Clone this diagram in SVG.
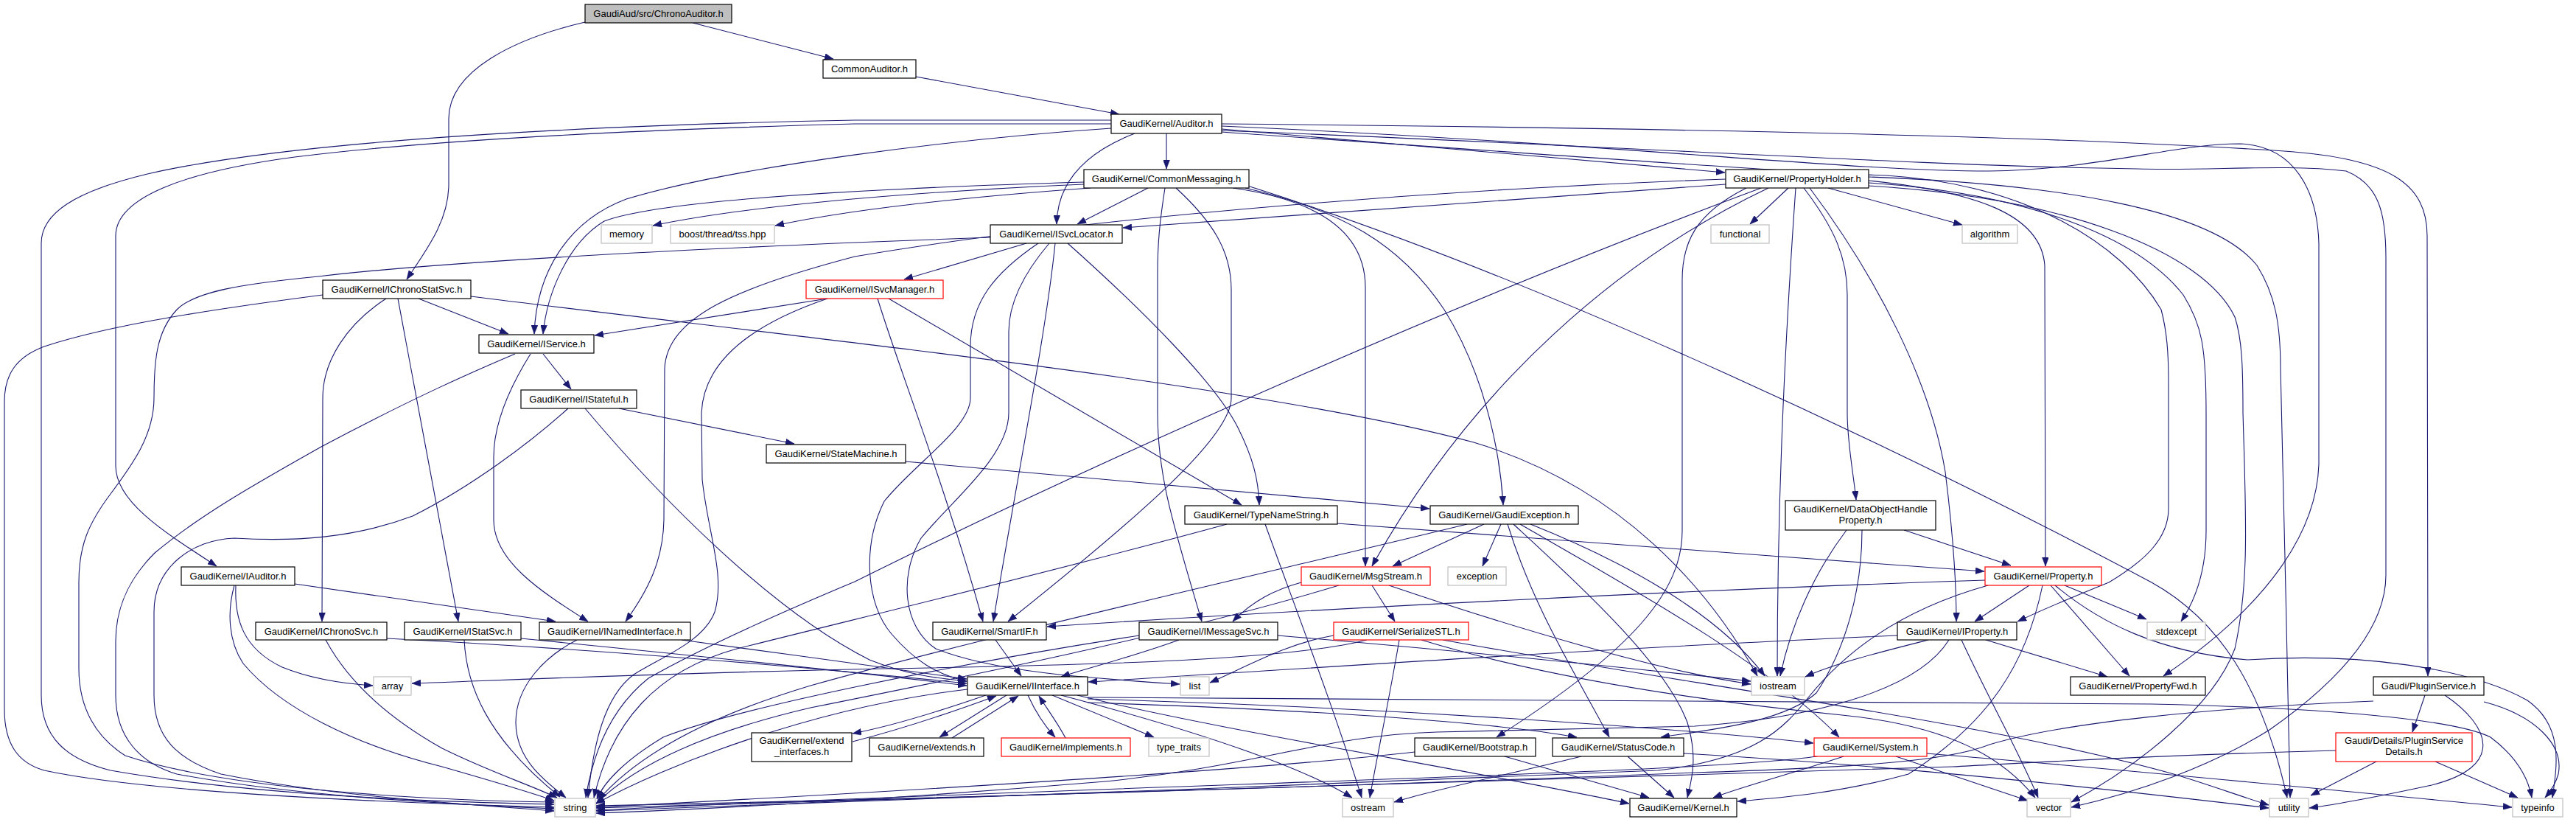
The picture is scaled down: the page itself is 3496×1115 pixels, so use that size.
<svg xmlns="http://www.w3.org/2000/svg" width="3496" height="1115" viewBox="0 0 3496 1115">
<defs>
<marker id="a" viewBox="0 0 12 9" refX="12" refY="4.5" markerWidth="12" markerHeight="9" markerUnits="userSpaceOnUse" orient="auto"><path d="M0,0 L12,4.5 L0,9 z" fill="#191970" stroke="#191970" stroke-width="0.5"/></marker>
<style>
.node rect{fill:#fff;stroke:#000;stroke-width:1.2}
.node.g rect{stroke:#bfbfbf}
.node.r rect{stroke:#ff0000}
.node.root rect{fill:#bfbfbf}
.node text{font-family:"Liberation Sans",Arial,Helvetica,sans-serif;font-size:13px;text-anchor:middle;fill:#000}
#edges path{fill:none;stroke:#191970;stroke-width:1.1;marker-end:url(#a)}
</style>
</defs>
<rect width="3496" height="1115" fill="#fff"/>
<g id="edges">
<path d="M 940 31 L 1131 80"/>
<path d="M 794 30 C 700 52, 609 95, 609 161 L 609 250 C 609 300, 578 340, 552 379"/>
<path d="M 1243 104 L 1519 155"/>
<path d="M 1583 181 L 1583 229"/>
<path d="M 1540 181 C 1470 208, 1435 250, 1434 304"/>
<path d="M 1508 174 C 1300 188, 1000 225, 850 270 C 770 300, 728 370, 725 453"/>
<path d="M 1508 168 L 1160 168 C 900 175, 600 188, 400 213 C 250 233, 157 268, 157 320 L 157 632 C 157 680, 220 720, 294 768"/>
<path d="M 1508 163 L 1160 163 C 800 170, 400 190, 200 236 C 100 260, 56 290, 56 330 L 56 943 C 56 1000, 90 1030, 150 1045 C 350 1080, 600 1088, 752 1091"/>
<path d="M 1658 175 L 2341 234"/>
<path d="M 1658 168 C 2300 174, 2800 185, 3100 205 C 3245 215, 3294 250, 3294 320 L 3295 917"/>
<path d="M 1658 171 C 2200 195, 2500 232, 2700 232 C 2850 230, 2950 195, 3040 195 C 3115 198, 3145 260, 3147 330 L 3147 630 C 3144 720, 3080 820, 2936 917"/>
<path d="M 1658 177 C 2200 198, 2600 225, 2900 229 C 3000 232, 3100 222, 3184 232 C 3229 250, 3238 290, 3238 350 L 3238 780 C 3238 850, 3180 920, 3080 990 C 3000 1040, 2900 1075, 2811 1095"/>
<path d="M 1658 179 C 2100 210, 2450 235, 2560 238 C 2750 250, 2880 330, 2933 420 C 2941 450, 2943 480, 2943 520 L 2943 690 C 2943 730, 2912 760, 2862 790 C 2800 815, 2770 828, 2738 843"/>
<path d="M 1471 247 C 1200 255, 900 270, 820 300 C 770 330, 742 400, 737 453"/>
<path d="M 1471 250 C 1200 262, 1000 282, 886 306"/>
<path d="M 1480 255 C 1300 268, 1150 285, 1052 306"/>
<path d="M 1558 255 L 1462 304"/>
<path d="M 1581 255 C 1574 300, 1571 330, 1571 370 L 1571 560 C 1571 650, 1595 720, 1631 843"/>
<path d="M 1596 255 C 1645 300, 1671 340, 1671 393 L 1671 540 C 1671 590, 1560 690, 1368 843"/>
<path d="M 1673 255 C 1780 270, 1853 310, 1853 390 L 1853 768"/>
<path d="M 1690 255 C 1820 285, 1900 330, 1960 420 C 2010 500, 2035 600, 2040 685"/>
<path d="M 1693 252 C 2100 380, 2600 620, 2920 790 C 3010 840, 3070 930, 3104 1082"/>
<path d="M 438 400 C 300 418, 150 440, 60 470 C 20 485, 6 510, 6 545 L 6 962 C 6 1010, 25 1035, 60 1045 C 200 1075, 500 1088, 752 1095"/>
<path d="M 568 405 L 690 453"/>
<path d="M 524 405 C 470 440, 438 490, 438 540 L 437 843"/>
<path d="M 540 405 L 622 843"/>
<path d="M 639 402 C 1100 460, 1700 520, 2000 600 C 2200 660, 2320 800, 2385 917"/>
<path d="M 1393 330 L 1227 379"/>
<path d="M 1409 330 C 1350 370, 1317 410, 1317 470 L 1317 540 C 1317 580, 1240 630, 1200 680 C 1170 740, 1175 820, 1210 860 C 1240 895, 1270 915, 1312 924"/>
<path d="M 1424 330 C 1390 370, 1369 410, 1369 450 L 1369 560 C 1369 620, 1290 680, 1250 730 C 1220 780, 1225 850, 1270 880 C 1350 912, 1480 920, 1601 928"/>
<path d="M 1432 330 C 1420 450, 1380 650, 1348 843"/>
<path d="M 1449 330 C 1550 420, 1650 520, 1680 580 C 1700 620, 1708 650, 1709 685"/>
<path d="M 1344 322 L 1160 329 C 900 340, 600 355, 432 375 C 330 385, 265 395, 240 420 C 212 450, 209 490, 209 540 C 209 590, 180 630, 150 670 C 120 710, 107 740, 107 790 L 107 907 C 107 960, 130 1000, 170 1025 C 300 1068, 550 1085, 752 1088"/>
<path d="M 1123 405 L 807 455"/>
<path d="M 1191 405 C 1220 500, 1280 650, 1334 843"/>
<path d="M 1206 405 L 1685 685"/>
<path d="M 1123 405 C 1020 440, 955 490, 952 560 L 953 650 C 960 720, 985 780, 970 830 C 955 870, 900 890, 860 915 C 820 945, 805 1010, 798 1082"/>
<path d="M 737 480 L 775 528"/>
<path d="M 720 480 C 695 520, 670 570, 670 620 L 670 705 C 670 760, 730 800, 798 843"/>
<path d="M 699 480 C 640 505, 560 540, 436 606 C 340 660, 270 700, 210 750 C 170 790, 157 830, 157 870 L 157 943 C 157 1000, 190 1035, 240 1050 C 400 1080, 600 1090, 752 1097"/>
<path d="M 840 554 L 1078 602"/>
<path d="M 794 554 C 900 680, 1050 830, 1180 895 C 1230 915, 1270 920, 1312 924"/>
<path d="M 771 554 C 720 600, 640 660, 560 700 C 480 730, 400 735, 318 730 C 260 732, 209 770, 209 830 L 209 943 C 209 1000, 240 1030, 300 1050 C 450 1080, 620 1090, 752 1100"/>
<path d="M 1229 626 C 1500 650, 1750 672, 1940 690"/>
<path d="M 1665 711 C 1450 770, 1200 830, 1000 880 C 890 910, 830 980, 806 1082"/>
<path d="M 1717 711 C 1760 830, 1810 960, 1848 1082"/>
<path d="M 1815 710 C 2100 730, 2400 755, 2693 775"/>
<path d="M 2014 711 L 1890 768"/>
<path d="M 2037 711 L 2012 768"/>
<path d="M 2046 711 C 2080 820, 2130 900, 2184 1000"/>
<path d="M 2054 711 C 2150 800, 2260 900, 2290 980 C 2305 1030, 2295 1060, 2290 1082"/>
<path d="M 2063 711 C 2200 790, 2400 900, 2496 1000"/>
<path d="M 2077 711 C 2200 760, 2330 830, 2395 917"/>
<path d="M 1991 711 C 1750 770, 1350 860, 1100 930 C 950 975, 860 1030, 812 1085"/>
<path d="M 1862 794 L 1893 843"/>
<path d="M 1766 790 C 1730 800, 1700 815, 1673 843"/>
<path d="M 1817 794 C 1600 860, 1300 920, 1100 960 C 950 995, 860 1040, 809 1090"/>
<path d="M 1885 794 C 2050 850, 2250 910, 2376 928"/>
<path d="M 1810 862 C 1750 872, 1700 900, 1642 926"/>
<path d="M 1855 868 C 1750 895, 1500 902, 1200 907 C 900 913, 700 922, 559 927"/>
<path d="M 1899 868 C 1885 950, 1870 1020, 1859 1082"/>
<path d="M 1929 868 C 2100 920, 2300 950, 2500 970 C 2650 985, 2720 1030, 2762 1082"/>
<path d="M 1958 868 C 2300 930, 2700 980, 2950 1050 C 3000 1065, 3040 1080, 3079 1092"/>
<path d="M 1600 868 C 1540 890, 1480 905, 1440 918"/>
<path d="M 1546 862 C 1300 900, 1000 960, 900 1000 C 850 1030, 820 1060, 810 1084"/>
<path d="M 1734 862 C 1950 880, 2200 905, 2376 924"/>
<path d="M 1351 868 L 1386 917"/>
<path d="M 1338 943 C 1280 963, 1210 985, 1157 995"/>
<path d="M 1157 1006 C 1220 990, 1295 965, 1352 944"/>
<path d="M 1366 943 L 1275 1000"/>
<path d="M 1292 1001 L 1382 944"/>
<path d="M 1395 943 C 1405 965, 1418 985, 1432 1000"/>
<path d="M 1446 1001 C 1435 980, 1420 960, 1410 944"/>
<path d="M 1428 943 L 1566 1000"/>
<path d="M 1476 953 C 1700 960, 2000 975, 2140 1000"/>
<path d="M 1462 943 C 1650 990, 2000 1045, 2211 1090"/>
<path d="M 1440 943 C 1580 980, 1750 1030, 1835 1082"/>
<path d="M 1476 948 C 1900 960, 2300 990, 2461 1008"/>
<path d="M 1476 946 C 2000 950, 2600 950, 2920 955 C 3150 960, 3330 975, 3380 1000 C 3420 1030, 3432 1060, 3436 1082"/>
<path d="M 1313 935 C 1100 960, 900 1040, 809 1090"/>
<path d="M 1920 1020 C 1700 1045, 1200 1075, 809 1095"/>
<path d="M 2042 1026 L 2238 1082"/>
<path d="M 2146 1026 C 2050 1050, 1950 1070, 1892 1088"/>
<path d="M 2209 1026 L 2272 1082"/>
<path d="M 2285 1022 C 2600 1040, 2900 1075, 3079 1096"/>
<path d="M 2466 1026 C 2300 1050, 1500 1065, 809 1099"/>
<path d="M 2502 1026 C 2430 1050, 2370 1065, 2325 1082"/>
<path d="M 2573 1026 L 2752 1086"/>
<path d="M 2615 1022 C 2900 1045, 3200 1075, 3409 1095"/>
<path d="M 2754 794 L 2680 843"/>
<path d="M 2783 794 L 2890 917"/>
<path d="M 2802 794 L 2913 840"/>
<path d="M 2789 794 C 2850 845, 2930 885, 3050 895 C 3200 885, 3350 905, 3430 950 C 3480 985, 3470 1040, 3464 1082"/>
<path d="M 2772 794 C 2750 900, 2700 980, 2590 1050 C 2500 1075, 2420 1082, 2358 1087"/>
<path d="M 2698 794 C 2570 830, 2500 890, 2455 945 C 2420 990, 2380 1030, 2250 1045 C 1800 1065, 1200 1085, 809 1100"/>
<path d="M 2694 787 C 2300 800, 1800 825, 1421 850"/>
<path d="M 2575 862 C 2200 878, 1800 905, 1477 925"/>
<path d="M 2617 868 C 2550 885, 2490 900, 2450 918"/>
<path d="M 2662 868 C 2700 950, 2740 1020, 2766 1082"/>
<path d="M 2695 868 L 2860 918"/>
<path d="M 2645 868 C 2600 940, 2450 975, 2300 985 L 1950 993 C 1800 997, 1700 1040, 1500 1060 C 1200 1085, 950 1098, 809 1103"/>
<path d="M 2584 719 L 2729 767"/>
<path d="M 2506 719 C 2460 780, 2430 850, 2416 917"/>
<path d="M 2527 719 C 2527 800, 2505 880, 2465 940 C 2420 980, 2320 990, 2254 1000"/>
<path d="M 2427 255 L 2375 304"/>
<path d="M 2481 255 L 2663 305"/>
<path d="M 2342 250 C 2100 265, 1800 290, 1524 309"/>
<path d="M 2342 243 C 2000 255, 1500 290, 1160 348 C 1000 390, 905 430, 902 500 L 901 705 C 900 760, 880 800, 849 843"/>
<path d="M 2390 255 C 2000 400, 1500 620, 1160 789 C 1050 835, 950 880, 880 920 C 830 960, 805 1020, 795 1082"/>
<path d="M 2400 255 C 2200 350, 2000 520, 1862 768"/>
<path d="M 2370 255 C 2300 290, 2283 330, 2283 380 L 2283 720 C 2283 800, 2220 880, 2031 1000"/>
<path d="M 2437 255 C 2420 500, 2412 700, 2412 917"/>
<path d="M 2448 255 C 2490 310, 2507 350, 2507 400 L 2507 560 C 2507 600, 2515 640, 2519 678"/>
<path d="M 2456 255 C 2550 380, 2620 520, 2640 640 C 2650 720, 2655 780, 2655 843"/>
<path d="M 2536 245 C 2680 260, 2770 290, 2775 360 L 2776 768"/>
<path d="M 2536 248 C 2750 262, 2900 320, 2963 400 C 2988 440, 2994 470, 2994 560 L 2994 720 C 2994 770, 2982 810, 2960 843"/>
<path d="M 2536 252 C 2800 268, 2990 340, 3033 430 C 3043 460, 3044 500, 3044 560 C 3048 700, 3053 790, 3033 880 C 3003 960, 2900 1040, 2811 1088"/>
<path d="M 2536 240 C 2800 250, 3003 285, 3063 360 C 3088 400, 3095 440, 3095 500 L 3102 800 C 3105 950, 3107 1020, 3108 1082"/>
<path d="M 3291 943 L 3274 993"/>
<path d="M 3318 943 C 3380 985, 3400 1040, 3300 1065 C 3230 1080, 3180 1090, 3134 1096"/>
<path d="M 3371 952 C 3440 970, 3480 1010, 3472 1050 C 3468 1065, 3460 1075, 3454 1082"/>
<path d="M 3221 951 C 3000 960, 2800 980, 2700 1010 C 2650 1030, 2550 1040, 2300 1048 C 1800 1068, 1200 1085, 809 1093"/>
<path d="M 3170 1018 C 2900 1025, 2750 1035, 2650 1040 C 2300 1055, 1500 1075, 809 1096"/>
<path d="M 3225 1033 L 3136 1079"/>
<path d="M 3305 1033 L 3417 1082"/>
<path d="M 400 792 L 754 843"/>
<path d="M 318 794 C 308 830, 310 870, 330 900 C 380 960, 480 1010, 600 1040 C 670 1060, 720 1075, 752 1086"/>
<path d="M 320 794 C 318 840, 330 880, 383 905 C 420 920, 460 927, 506 930"/>
<path d="M 442 868 C 470 920, 520 970, 600 1015 C 660 1045, 720 1065, 756 1082"/>
<path d="M 525 866 C 800 880, 1100 905, 1312 927"/>
<path d="M 630 868 C 633 930, 660 1000, 760 1081"/>
<path d="M 707 866 C 900 885, 1150 910, 1312 930"/>
<path d="M 925 868 C 1050 885, 1200 905, 1312 921"/>
<path d="M 783 868 C 740 890, 700 930, 700 980 C 700 1030, 740 1060, 768 1082"/>
</g>
<g id="nodes">
<g id="n_ChronoAuditor" class="node root"><rect x="794" y="6" width="199" height="25"/><text x="893.5" y="23">GaudiAud/src/ChronoAuditor.h</text></g>
<g id="n_CommonAuditor" class="node"><rect x="1117" y="81" width="126" height="25"/><text x="1180" y="98">CommonAuditor.h</text></g>
<g id="n_Auditor" class="node"><rect x="1508" y="155" width="150" height="26"/><text x="1583" y="172">GaudiKernel/Auditor.h</text></g>
<g id="n_CommonMessaging" class="node"><rect x="1471" y="230" width="224" height="25"/><text x="1583" y="247">GaudiKernel/CommonMessaging.h</text></g>
<g id="n_PropertyHolder" class="node"><rect x="2342" y="230" width="194" height="25"/><text x="2439" y="247">GaudiKernel/PropertyHolder.h</text></g>
<g id="n_memory" class="node g"><rect x="816" y="305" width="69" height="25"/><text x="850.5" y="322">memory</text></g>
<g id="n_boost" class="node g"><rect x="910" y="305" width="141" height="25"/><text x="980.5" y="322">boost/thread/tss.hpp</text></g>
<g id="n_ISvcLocator" class="node"><rect x="1344" y="305" width="179" height="25"/><text x="1433.5" y="322">GaudiKernel/ISvcLocator.h</text></g>
<g id="n_functional" class="node g"><rect x="2322" y="305" width="79" height="25"/><text x="2361.5" y="322">functional</text></g>
<g id="n_algorithm" class="node g"><rect x="2663" y="305" width="75" height="25"/><text x="2700.5" y="322">algorithm</text></g>
<g id="n_IChronoStatSvc" class="node"><rect x="438" y="380" width="201" height="25"/><text x="538.5" y="397">GaudiKernel/IChronoStatSvc.h</text></g>
<g id="n_ISvcManager" class="node r"><rect x="1094" y="380" width="186" height="25"/><text x="1187" y="397">GaudiKernel/ISvcManager.h</text></g>
<g id="n_IService" class="node"><rect x="650" y="454" width="156" height="25"/><text x="728" y="471">GaudiKernel/IService.h</text></g>
<g id="n_IStateful" class="node"><rect x="707" y="529" width="157" height="25"/><text x="785.5" y="546">GaudiKernel/IStateful.h</text></g>
<g id="n_StateMachine" class="node"><rect x="1040" y="603" width="189" height="25"/><text x="1134.5" y="620">GaudiKernel/StateMachine.h</text></g>
<g id="n_TypeNameString" class="node"><rect x="1608" y="686" width="207" height="25"/><text x="1711.5" y="703">GaudiKernel/TypeNameString.h</text></g>
<g id="n_GaudiException" class="node"><rect x="1941" y="686" width="201" height="25"/><text x="2041.5" y="703">GaudiKernel/GaudiException.h</text></g>
<g id="n_DataObjectHandleProperty" class="node"><rect x="2423" y="679" width="204" height="40"/><text x="2525" y="695">GaudiKernel/DataObjectHandle</text><text x="2525" y="710">Property.h</text></g>
<g id="n_IAuditor" class="node"><rect x="246" y="769" width="154" height="25"/><text x="323" y="786">GaudiKernel/IAuditor.h</text></g>
<g id="n_MsgStream" class="node r"><rect x="1766" y="769" width="175" height="25"/><text x="1853.5" y="786">GaudiKernel/MsgStream.h</text></g>
<g id="n_exception" class="node g"><rect x="1965" y="769" width="79" height="25"/><text x="2004.5" y="786">exception</text></g>
<g id="n_Property" class="node r"><rect x="2694" y="769" width="158" height="25"/><text x="2773" y="786">GaudiKernel/Property.h</text></g>
<g id="n_IChronoSvc" class="node"><rect x="347" y="844" width="178" height="24"/><text x="436" y="861">GaudiKernel/IChronoSvc.h</text></g>
<g id="n_IStatSvc" class="node"><rect x="549" y="844" width="158" height="24"/><text x="628" y="861">GaudiKernel/IStatSvc.h</text></g>
<g id="n_INamedInterface" class="node"><rect x="732" y="844" width="205" height="24"/><text x="834.5" y="861">GaudiKernel/INamedInterface.h</text></g>
<g id="n_SmartIF" class="node"><rect x="1266" y="844" width="154" height="24"/><text x="1343" y="861">GaudiKernel/SmartIF.h</text></g>
<g id="n_IMessageSvc" class="node"><rect x="1546" y="844" width="188" height="24"/><text x="1640" y="861">GaudiKernel/IMessageSvc.h</text></g>
<g id="n_SerializeSTL" class="node r"><rect x="1810" y="844" width="183" height="24"/><text x="1901.5" y="861">GaudiKernel/SerializeSTL.h</text></g>
<g id="n_IProperty" class="node"><rect x="2575" y="844" width="162" height="24"/><text x="2656" y="861">GaudiKernel/IProperty.h</text></g>
<g id="n_stdexcept" class="node g"><rect x="2914" y="844" width="79" height="24"/><text x="2953.5" y="861">stdexcept</text></g>
<g id="n_array" class="node g"><rect x="507" y="918" width="51" height="25"/><text x="532.5" y="935">array</text></g>
<g id="n_IInterface" class="node"><rect x="1313" y="918" width="163" height="25"/><text x="1394.5" y="935">GaudiKernel/IInterface.h</text></g>
<g id="n_list" class="node g"><rect x="1602" y="918" width="39" height="25"/><text x="1621.5" y="935">list</text></g>
<g id="n_iostream" class="node g"><rect x="2377" y="918" width="72" height="25"/><text x="2413" y="935">iostream</text></g>
<g id="n_PropertyFwd" class="node"><rect x="2810" y="918" width="183" height="25"/><text x="2901.5" y="935">GaudiKernel/PropertyFwd.h</text></g>
<g id="n_PluginService" class="node"><rect x="3221" y="918" width="150" height="25"/><text x="3296" y="935">Gaudi/PluginService.h</text></g>
<g id="n_extend_interfaces" class="node"><rect x="1020" y="994" width="136" height="39"/><text x="1088" y="1009">GaudiKernel/extend</text><text x="1088" y="1024">_interfaces.h</text></g>
<g id="n_extends" class="node"><rect x="1180" y="1001" width="155" height="25"/><text x="1257.5" y="1018">GaudiKernel/extends.h</text></g>
<g id="n_implements" class="node r"><rect x="1359" y="1001" width="175" height="25"/><text x="1446.5" y="1018">GaudiKernel/implements.h</text></g>
<g id="n_type_traits" class="node g"><rect x="1559" y="1001" width="82" height="25"/><text x="1600" y="1018">type_traits</text></g>
<g id="n_Bootstrap" class="node"><rect x="1920" y="1001" width="164" height="25"/><text x="2002" y="1018">GaudiKernel/Bootstrap.h</text></g>
<g id="n_StatusCode" class="node"><rect x="2107" y="1001" width="178" height="25"/><text x="2196" y="1018">GaudiKernel/StatusCode.h</text></g>
<g id="n_System" class="node r"><rect x="2462" y="1001" width="153" height="25"/><text x="2538.5" y="1018">GaudiKernel/System.h</text></g>
<g id="n_PluginServiceDetails" class="node r"><rect x="3170" y="994" width="185" height="39"/><text x="3262.5" y="1009">Gaudi/Details/PluginService</text><text x="3262.5" y="1024">Details.h</text></g>
<g id="n_string" class="node g"><rect x="753" y="1083" width="55" height="25"/><text x="780.5" y="1100">string</text></g>
<g id="n_ostream" class="node g"><rect x="1822" y="1083" width="69" height="25"/><text x="1856.5" y="1100">ostream</text></g>
<g id="n_Kernel" class="node"><rect x="2212" y="1083" width="145" height="25"/><text x="2284.5" y="1100">GaudiKernel/Kernel.h</text></g>
<g id="n_vector" class="node g"><rect x="2751" y="1083" width="59" height="25"/><text x="2780.5" y="1100">vector</text></g>
<g id="n_utility" class="node g"><rect x="3080" y="1083" width="53" height="25"/><text x="3106.5" y="1100">utility</text></g>
<g id="n_typeinfo" class="node g"><rect x="3410" y="1083" width="68" height="25"/><text x="3444" y="1100">typeinfo</text></g>
</g>
</svg>
